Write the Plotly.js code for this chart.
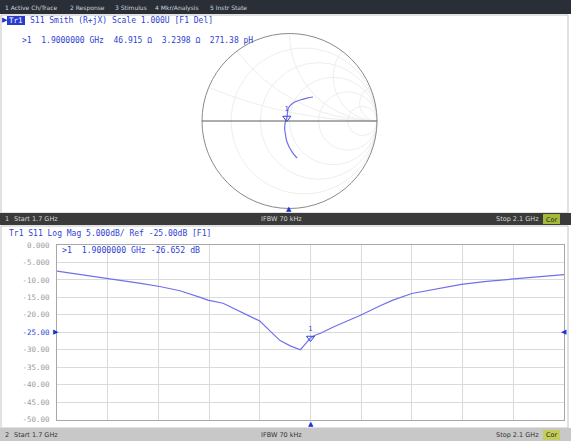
<!DOCTYPE html>
<html>
<head>
<meta charset="utf-8">
<script src="https://cdn.plot.ly/plotly-3.0.1.min.js"></script>
<style>
  html, body { margin: 0; padding: 0; background: #ffffff; }
  #chart { width: 571px; height: 441px; }
</style>
</head>
<body>
<div id="chart"></div>
<script>
// ---------------- DATA ----------------
// Log-mag trace (S11, dB) vs frequency (GHz)
const freqGHz = [1.700, 1.739, 1.766, 1.781, 1.797, 1.813, 1.819, 1.831, 1.842, 1.850,
                 1.860, 1.868, 1.876, 1.884, 1.892, 1.896, 1.900, 1.904, 1.908, 1.918,
                 1.929, 1.939, 1.955, 1.965, 1.980, 2.002, 2.019, 2.039, 2.060, 2.081, 2.100];
const s11dB   = [-7.5, -9.5, -11.0, -11.9, -13.1, -15.0, -15.8, -16.7, -18.6, -20.2,
                 -21.8, -24.6, -27.4, -28.9, -30.0, -28.3, -26.652, -25.8, -25.3, -23.5,
                 -21.8, -20.2, -17.4, -15.8, -13.9, -12.4, -11.3, -10.4, -9.7, -9.0, -8.5];
// Smith trace: impedance (ohms), 1.7 GHz -> 2.1 GHz
const smithR = [40.1, 40.9, 42.2, 43.5, 44.2, 45.7, 46.915, 47.0, 46.7, 49.6, 55.8, 62.9, 69.9];
const smithX = [-41.7, -33.1, -21.5, -14.3, -7.1, 0.0, 3.2398, 7.6, 14.2, 21.4, 28.8, 37.0, 45.0];
const Z0 = 50;
// Marker 1
const markerFreq = [1.9];
const markerDB = [-26.652];
const markerR = [46.915];
const markerX = [3.2398];
// Axis ticks
const yTickVals = [0, -5, -10, -15, -20, -25, -30, -35, -40, -45, -50];
const yTickText = ['0.000', '-5.000', '-10.00', '-15.00', '-20.00', '-25.00', '-30.00', '-35.00', '-40.00', '-45.00', '-50.00'];
const refLevel = -25;
// Texts
const menuItems = ['1 Active Ch/Trace', '2 Response', '3 Stimulus', '4 Mkr/Analysis', '5 Instr State'];
const smithHeader = 'S11 Smith (R+jX) Scale 1.000U [F1 Del]';
const smithMarkerLine = '>1  1.9000000 GHz  46.915 Ω  3.2398 Ω  271.38 pH';
const logHeader = 'Tr1 S11 Log Mag 5.000dB/ Ref -25.00dB [F1]';
const logMarkerLine = '>1  1.9000000 GHz -26.652 dB';
const startText = 'Start 1.7 GHz', ifbwText = 'IFBW 70 kHz', stopText = 'Stop 2.1 GHz', corText = 'Cor';

// ---------------- LAYOUT HELPERS ----------------
const W = 571, H = 441;
const px = x => x / W;
const py = y => 1 - y / H;
const mono = '"DejaVu Sans Mono", "Liberation Mono", monospace';
const sans = '"DejaVu Sans", "Liberation Sans", sans-serif';
const blueText = '#2f3fd4';
const traceCol = '#7070e8';

const shapes = [];
const ann = [];
function rect(x0, y0, x1, y1, fill, line) {
  shapes.push({type: 'rect', xref: 'paper', yref: 'paper', layer: 'below',
    x0: px(x0), x1: px(x1), y0: py(y1), y1: py(y0),
    fillcolor: fill, line: {color: line || fill, width: line ? 1 : 0}});
}
function txt(x, y, t, size, color, font, anchor) {
  ann.push({xref: 'paper', yref: 'paper', x: px(x), y: py(y), text: t, showarrow: false,
    xanchor: anchor || 'left', yanchor: 'middle', font: {size: size, color: color, family: font || mono}});
}

// menu bar
rect(0, 0, 571, 14, '#2a2f37');
const menuX = [3, 68, 113, 153, 208];
menuItems.forEach((m, i) => txt(menuX[i], 7.5, m, 6, '#cfd4da', sans));
// upper panel
rect(1, 15, 568, 213, '#ffffff', '#c4c4c4');
// Tr1 header
txt(0, 20.5, '▶', 7, '#2233cc', sans);
rect(7, 16, 25, 25, '#2a3bd0');
txt(16, 20.5, 'Tr1', 7.5, '#ffffff', mono, 'center');
txt(28, 20.5, smithHeader, 8, blueText);
txt(20, 40, smithMarkerLine, 8, blueText);
// status bar 1
rect(0, 213, 571, 225, '#3a3a3a');
txt(3, 219, '1', 6.5, '#d8d8d8', sans);
txt(12, 219, startText, 6.5, '#d8d8d8', sans);
txt(281, 219, ifbwText, 6.5, '#d8d8d8', sans, 'center');
txt(541, 219, stopText, 6.5, '#d8d8d8', sans, 'right');
rect(543, 214, 560, 224, '#a4b83a');
txt(551.5, 219.5, corText, 6.5, '#2a2a2a', sans, 'center');
// lower panel
rect(1, 226, 568, 428, '#ffffff', '#c4c4c4');
txt(7, 233, logHeader, 8, blueText);
txt(60, 250, logMarkerLine, 8.2, blueText);
// status bar 2
rect(0, 428, 571, 441, '#c8c8c8');
txt(3, 434.5, '2', 6.5, '#333333', sans);
txt(12, 434.5, startText, 6.5, '#333333', sans);
txt(281, 434.5, ifbwText, 6.5, '#333333', sans, 'center');
txt(541, 434.5, stopText, 6.5, '#333333', sans, 'right');
rect(543, 430, 560, 440, '#c4cc5a');
txt(551.5, 435, corText, 6.5, '#2a2a2a', sans, 'center');
// stimulus marker indicator on smith panel
txt(289, 209, '▲', 7, '#2233cc', sans, 'center');
// lower marker indicator (data-bound x)
ann.push({xref: 'x', yref: 'paper', x: markerFreq[0], y: py(424), text: '▲', showarrow: false,
  xanchor: 'center', yanchor: 'middle', font: {size: 7, color: '#2233cc', family: sans}});
// reference level markers
ann.push({xref: 'paper', yref: 'y', x: px(51), y: refLevel, text: '▶', showarrow: false,
  xanchor: 'left', yanchor: 'middle', font: {size: 7, color: '#2233cc', family: sans}});
ann.push({xref: 'paper', yref: 'y', x: px(569), y: refLevel, text: '◀', showarrow: false,
  xanchor: 'right', yanchor: 'middle', font: {size: 7, color: '#2233cc', family: sans}});

const tickText = yTickText.map((t, i) => yTickVals[i] === refLevel ? '<span style="color:#3344dd">' + t + '</span>' : t);

const data = [
  {type: 'scattersmith', subplot: 'smith',
   real: smithR.map(r => r / Z0), imag: smithX.map(x => x / Z0),
   mode: 'lines', line: {color: traceCol, width: 1.2, shape: 'spline'}, hoverinfo: 'skip'},
  {type: 'scattersmith', subplot: 'smith',
   real: markerR.map(r => r / Z0), imag: markerX.map(x => x / Z0),
   mode: 'markers+text', text: ['1'], textposition: 'top center',
   textfont: {size: 7, color: '#3344dd', family: sans},
   marker: {symbol: 'triangle-down-open', size: 7, color: '#3344dd', line: {width: 1, color: '#3344dd'}}, hoverinfo: 'skip'},
  {type: 'scatter', x: freqGHz, y: s11dB, xaxis: 'x', yaxis: 'y',
   mode: 'lines', line: {color: traceCol, width: 1.2}, hoverinfo: 'skip'},
  {type: 'scatter', x: markerFreq, y: markerDB, xaxis: 'x', yaxis: 'y',
   mode: 'markers+text', text: ['1'], textposition: 'top center',
   textfont: {size: 7, color: '#3344dd', family: sans},
   marker: {symbol: 'triangle-down-open', size: 7, color: '#3344dd', line: {width: 1, color: '#3344dd'}}, hoverinfo: 'skip'}
];

const layout = {
  width: W, height: H,
  margin: {l: 0, r: 0, t: 0, b: 0, pad: 0},
  paper_bgcolor: '#ffffff',
  plot_bgcolor: 'rgba(0,0,0,0)',
  showlegend: false,
  smith: {
    domain: {x: [px(202), px(377)], y: [py(208.5), py(33.5)]},
    bgcolor: '#ffffff',
    realaxis: {tickvals: [0.2, 0.5, 1, 2, 5], showticklabels: false, ticks: '',
               gridcolor: '#eeeeee', gridwidth: 1, showline: true, linecolor: '#5a5a5a', linewidth: 1},
    imaginaryaxis: {tickvals: [0.2, 0.5, 1, 2, 5], showticklabels: false, ticks: '',
               gridcolor: '#eeeeee', gridwidth: 1, showline: true, linecolor: '#8a8a8a', linewidth: 1}
  },
  xaxis: {domain: [px(57), px(564)], range: [1.7, 2.1], dtick: 0.04, tick0: 1.7,
          showticklabels: false, ticks: '', showgrid: true, gridcolor: '#dadada', gridwidth: 1,
          zeroline: false, showline: true, mirror: true, linecolor: '#a8a8a8', linewidth: 1, fixedrange: true},
  yaxis: {domain: [py(419.5), py(245)], range: [-50, 0], tickvals: yTickVals, ticktext: tickText,
          ticks: '', ticklabelstandoff: 5, tickfont: {size: 7.5, color: '#9a9a9a', family: mono},
          showgrid: true, gridcolor: '#dadada', gridwidth: 1, zeroline: false,
          showline: true, mirror: true, linecolor: '#a8a8a8', linewidth: 1, fixedrange: true},
  shapes: shapes,
  annotations: ann
};

Plotly.newPlot('chart', data, layout, {staticPlot: true, displayModeBar: false});
</script>
</body>
</html>
